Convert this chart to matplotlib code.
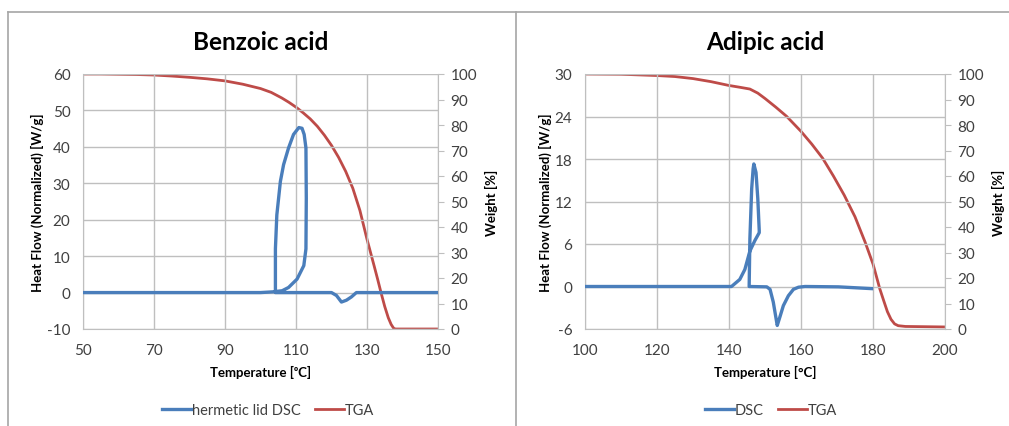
import matplotlib.pyplot as plt
from matplotlib.lines import Line2D

plt.rcParams['font.family'] = ['Lato', 'DejaVu Sans']
plt.rcParams['axes.unicode_minus'] = False

# Benzoic acid
bz_tga_t = [50, 55, 60, 65, 70, 75, 80, 85, 90, 95, 100, 103, 106, 108, 110, 112, 114, 116, 118, 120,
            122, 124, 126, 128, 130, 131, 132, 133, 134, 135, 136, 136.8, 137.5, 138, 150]
bz_tga_w = [100, 100, 99.9, 99.8, 99.6, 99.2, 98.7, 98.1, 97.3, 96, 94.3, 92.8, 90.6, 88.9, 87, 84.8,
            82.4, 79.5, 76, 72, 67.3, 61.8, 55.2, 46.5, 35.2, 30, 24.8, 19.5, 14.0, 8.8, 4.4, 1.8, 0.3, 0, 0]
bz_dsc_t = [50, 80, 100, 103.5, 106.1, 107.9, 110.3, 112.2, 112.8, 112.9, 112.8, 112.3, 111.7, 110.8,
            109.3, 107.9, 106.5, 105.6, 104.6, 104.2, 104.2, 110, 120.0, 121.4, 122.8, 124.2, 125.6,
            127.0, 140, 150]
bz_dsc_h = [0, 0, 0, 0.2, 0.5, 1.4, 3.7, 7.4, 12, 25.9, 39.7, 43.4, 45.1, 45.3,
            43.4, 39.7, 35.1, 30.5, 21.3, 12, 0, 0, 0, -0.8, -2.6, -2.1, -1.2,
            0, 0, 0]

# Adipic acid
ad_tga_t = [100, 110, 120, 125, 130, 135, 140, 143, 145.8, 148, 150, 153, 156, 160, 163, 166, 169,
            172, 175, 177.8, 180, 181.9, 183, 184, 185, 186, 187, 189, 200]
ad_tga_w = [100, 99.9, 99.4, 99, 98.2, 97, 95.5, 94.8, 94.1, 92.5, 90.4, 87, 83.4, 77.5, 72.5, 67, 60,
            52.5, 44, 34.1, 25.5, 15.7, 11, 6.8, 3.8, 2, 1.3, 1.0, 0.8]
ad_dsc_t = [100, 120, 140.7, 143.0, 144.4, 145.8, 147.2, 148.4, 148.4, 148.0, 147.5, 146.9, 146.7,
            146.3, 145.8, 145.6, 150.5, 151.4, 152.3, 153.1, 153.4, 154.2, 155.1, 156.5,
            157.9, 159.3, 161.1, 170.4, 179.6]
ad_dsc_h = [0, 0, 0, 1.0, 2.4, 5.0, 6.5, 7.6, 7.9, 12.4, 16.1, 17.3, 16.6,
            13.8, 6.7, 0, -0.05, -0.4, -2.2, -4.6, -5.5, -4.2, -2.7, -1.3,
            -0.4, -0.1, 0, -0.05, -0.3]

blue = '#4a7ebb'
red = '#be4b48'
grid = '#bfbfbf'
tick_col = '#404040'

fig = plt.figure(figsize=(10.09, 4.27), dpi=100)
W, H = 1009, 427


def panel(rect, title, t_dsc, h_dsc, t_tga, w_tga, xlim, xstep, ylim, ystep, xlabel, dsc_name, leg_x):
    ax = fig.add_axes(rect)
    ax2 = ax.twinx()
    ax.set_xlim(*xlim)
    ax.set_ylim(*ylim)
    ax2.set_ylim(0, 100)
    ax.set_xticks(range(xlim[0], xlim[1] + 1, xstep))
    ax.set_yticks(range(ylim[0], ylim[1] + 1, ystep))
    ax2.set_yticks(range(0, 101, 10))
    ax.grid(True, color=grid, lw=1)
    ax.set_axisbelow(True)
    for a in (ax, ax2):
        for s in a.spines.values():
            s.set_visible(False)
    ax2.spines['right'].set_visible(True)
    ax2.spines['right'].set_color(grid)
    ax.spines['left'].set_visible(True)
    ax.spines['left'].set_color(grid)
    ax.spines['bottom'].set_visible(True)
    ax.spines['bottom'].set_color(grid)
    ax.tick_params(axis='x', length=0, labelsize=11, colors=tick_col, pad=10)
    ax.tick_params(axis='y', length=0, labelsize=11, colors=tick_col, pad=9)
    ax2.tick_params(axis='y', length=4, color=grid, labelsize=11, labelcolor=tick_col, pad=5)
    l1, = ax.plot(t_dsc, h_dsc, color=blue, lw=2.4, solid_joinstyle='round', zorder=3)
    l2, = ax2.plot(t_tga, w_tga, color=red, lw=2.0, solid_joinstyle='round', zorder=2)
    ax.set_zorder(ax2.get_zorder() + 1)
    ax.patch.set_visible(False)
    ax.set_title(title, fontsize=17.5, fontweight='bold', pad=18)
    ax.set_xlabel(xlabel, fontsize=9.5, fontweight='bold', labelpad=6)
    ax.set_ylabel('Heat Flow (Normalized) [W/g]', fontsize=9.5, fontweight='bold', labelpad=2)
    ax2.set_ylabel('Weight [%]', fontsize=9.5, fontweight='bold', labelpad=6)
    fig.legend([l1, l2], [dsc_name, 'TGA'], loc='center', bbox_to_anchor=(leg_x, 1 - 411 / H),
               ncol=2, frameon=False, fontsize=10.5, handlelength=2.0, handletextpad=0.05,
               columnspacing=1.0, labelcolor=tick_col)


panel([83 / W, 1 - 330 / H, 355 / W, 255 / H], 'Benzoic acid', bz_dsc_t, bz_dsc_h, bz_tga_t, bz_tga_w,
      (50, 150), 20, (-10, 60), 10, 'Temperature [ᵒC]', 'hermetic lid DSC', 268 / W)
panel([585 / W, 1 - 330 / H, 360 / W, 255 / H], 'Adipic acid', ad_dsc_t, ad_dsc_h, ad_tga_t, ad_tga_w,
      (100, 200), 20, (-6, 30), 6, 'Temperature [°C]', 'DSC', 771 / W)

# outer chart frames
fc = '#a6a6a6'
fig.add_artist(Line2D([8 / W, 8 / W], [0, 1 - 13 / H], color=fc, lw=1.2))
fig.add_artist(Line2D([8 / W, 1], [1 - 13 / H, 1 - 13 / H], color=fc, lw=1.2))
fig.add_artist(Line2D([516 / W, 516 / W], [0, 1 - 13 / H], color=fc, lw=1.2))

fig.savefig('out.png', dpi=100)
